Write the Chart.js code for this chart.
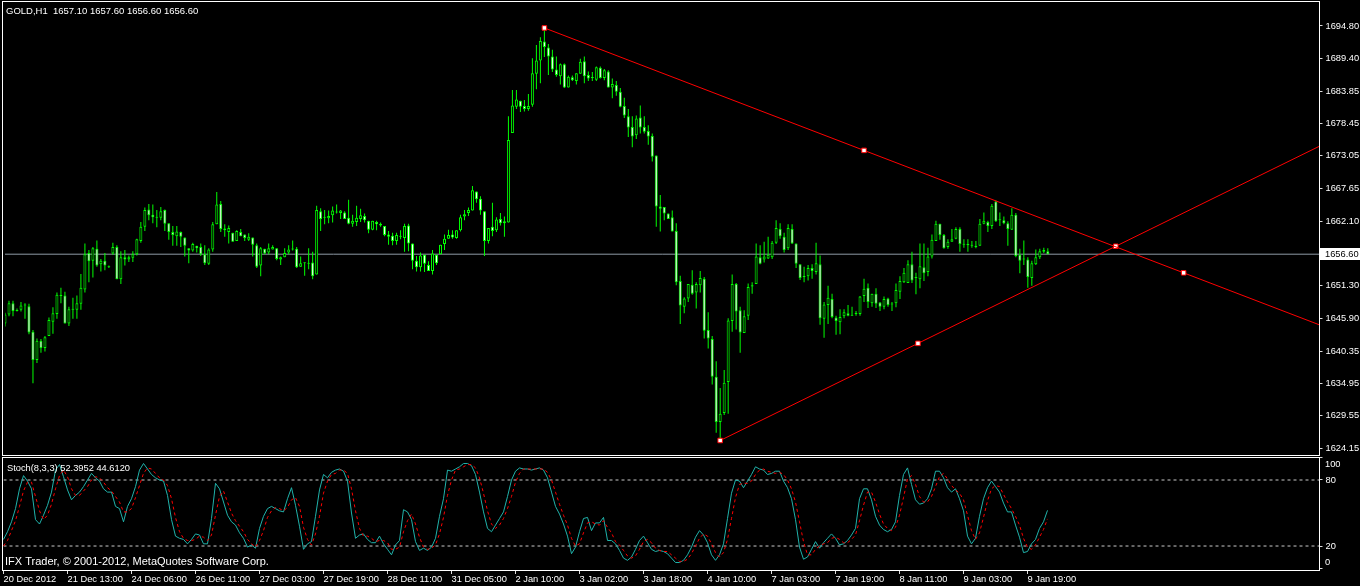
<!DOCTYPE html>
<html>
<head>
<meta charset="utf-8">
<script src="https://cdn.jsdelivr.net/npm/chart.js@4.4.0/dist/chart.umd.min.js"></script>
<style>
  html, body { margin: 0; padding: 0; background: #000; overflow: hidden; }
  #wrap { position: relative; width: 1360px; height: 586px; background: #000; }
  #main { position: absolute; left: 0; top: 0; }
  #stoch { position: absolute; left: 0; top: 456px; }
</style>
</head>
<body>
<div id="wrap">
  <canvas id="main" width="1360" height="456"></canvas>
  <canvas id="stoch" width="1360" height="130"></canvas>
</div>
<script>
// GOLD H1 candles, 20 Dec 2012 21:00 .. 9 Jan 2013
const symbol = "GOLD,H1";

const opens = [
  1645.0,1646.5,1648.4,1647.1,1647.3,1648.0,1647.9,1643.6,1638.9,1642.1,
  1640.9,1642.9,1645.3,1646.6,1649.7,1649.7,1645.0,1647.4,1647.3,1648.3,
  1650.7,1656.8,1655.5,1657.5,1654.9,1655.5,1654.6,1656.7,1657.8,1652.4,
  1656.1,1655.7,1656.0,1656.6,1658.8,1661.2,1664.1,1663.2,1662.8,1662.7,
  1664.0,1661.8,1660.3,1659.6,1660.3,1659.4,1657.6,1657.2,1658.0,1657.8,
  1656.6,1655.0,1657.4,1661.6,1665.0,1660.9,1660.3,1660.2,1658.8,1660.3,
  1659.9,1659.0,1659.4,1658.1,1654.7,1657.5,1656.9,1657.4,1657.6,1655.7,
  1656.1,1656.9,1657.4,1657.5,1654.5,1655.2,1655.0,1655.2,1653.2,1663.8,
  1662.7,1662.6,1663.1,1663.6,1663.5,1663.6,1662.7,1661.7,1662.0,1662.5,
  1663.0,1662.2,1660.7,1662.0,1661.7,1661.3,1659.9,1659.7,1658.8,1659.5,
  1659.3,1661.4,1658.4,1655.5,1654.4,1656.5,1654.8,1653.8,1656.5,1656.6,
  1658.3,1659.2,1659.9,1659.3,1660.6,1662.9,1663.5,1663.9,1667.1,1665.9,
  1663.8,1658.8,1661.2,1660.6,1662.5,1661.8,1661.9,1676.9,1681.3,1682.3,
  1681.4,1680.9,1681.6,1686.8,1689.0,1692.2,1691.2,1689.7,1687.5,1686.4,
  1688.4,1684.5,1686.2,1685.6,1686.8,1688.9,1686.6,1686.1,1685.8,1687.8,
  1686.1,1687.2,1684.5,1684.9,1683.8,1681.4,1679.7,1677.9,1676.5,1679.5,
  1677.9,1677.2,1676.4,1673.1,1664.6,1664.5,1663.4,1662.8,1660.5,1652.1,
  1647.8,1649.2,1651.5,1650.2,1651.4,1652.5,1643.9,1642.4,1636.1,1628.5,
  1630.0,1635.2,1645.4,1651.6,1647.2,1643.4,1646.3,1651.2,1651.6,1656.1,
  1655.7,1655.9,1656.1,1658.5,1660.8,1659.5,1657.6,1660.8,1658.4,1654.9,
  1652.9,1652.9,1654.3,1653.6,1654.9,1645.8,1648.1,1649.1,1646.0,1645.2,
  1646.2,1646.7,1646.3,1646.6,1646.6,1649.6,1651.0,1648.4,1650.0,1648.5,
  1647.8,1649.2,1648.2,1648.4,1650.3,1651.9,1651.8,1654.9,1652.6,1652.4,
  1654.4,1653.6,1656.2,1658.8,1661.7,1659.8,1657.8,1658.7,1659.2,1660.8,
  1658.3,1658.3,1658.1,1658.0,1658.0,1661.7,1662.0,1661.3,1665.4,1662.3,
  1662.3,1661.8,1660.7,1663.2,1656.5,1655.7,1655.7,1652.6,1654.9,1656.1,
  1657.0,1657.1
];
const highs = [
  1646.8,1648.8,1648.8,1647.5,1648.6,1648.4,1648.3,1643.9,1642.5,1642.4,
  1642.9,1646.0,1647.7,1650.2,1651.0,1650.3,1647.8,1649.3,1649.7,1653.3,
  1658.4,1657.3,1657.8,1658.9,1655.8,1656.8,1654.7,1658.5,1658.1,1657.1,
  1657.3,1656.4,1657.1,1659.2,1662.0,1664.4,1665.0,1664.9,1664.0,1664.5,
  1664.1,1661.8,1661.3,1661.3,1660.4,1659.4,1657.6,1658.5,1658.0,1658.4,
  1658.1,1657.6,1662.0,1667.0,1665.5,1661.6,1661.4,1660.2,1660.6,1660.8,
  1659.9,1660.1,1659.4,1658.4,1657.8,1657.5,1658.4,1658.1,1657.6,1656.2,
  1657.6,1658.1,1658.9,1657.8,1656.2,1655.2,1657.6,1657.0,1664.7,1664.3,
  1664.0,1663.9,1664.6,1664.9,1664.0,1663.8,1665.7,1663.2,1664.7,1664.2,
  1663.4,1662.2,1662.2,1662.2,1661.9,1661.3,1660.5,1660.2,1660.2,1660.6,
  1661.7,1661.7,1658.4,1656.3,1656.9,1656.5,1655.4,1657.3,1656.5,1658.2,
  1659.9,1660.7,1660.6,1660.6,1663.2,1664.0,1664.4,1668.0,1667.1,1666.3,
  1663.8,1661.0,1665.2,1662.8,1663.5,1662.9,1679.7,1684.1,1684.1,1682.3,
  1682.4,1683.4,1689.4,1691.6,1692.9,1694.5,1691.8,1690.8,1689.7,1688.5,
  1688.5,1686.5,1686.5,1686.9,1689.3,1689.7,1687.2,1687.1,1688.0,1688.0,
  1687.6,1687.4,1686.0,1685.6,1684.4,1682.8,1680.9,1679.7,1679.8,1681.5,
  1679.7,1678.2,1676.8,1673.1,1666.5,1664.5,1663.4,1663.9,1661.8,1653.0,
  1649.4,1651.6,1653.9,1651.9,1653.8,1652.8,1646.9,1642.9,1638.7,1634.2,
  1637.2,1645.9,1653.2,1651.8,1647.8,1647.2,1651.7,1651.9,1658.4,1658.1,
  1658.7,1659.5,1658.8,1662.3,1661.8,1660.2,1661.6,1661.6,1658.4,1654.9,
  1654.5,1654.8,1654.9,1658.5,1656.4,1648.6,1651.3,1650.0,1646.3,1647.4,
  1647.4,1648.1,1647.8,1647.1,1649.6,1652.5,1651.7,1650.0,1650.9,1648.6,
  1649.5,1649.3,1648.6,1651.7,1652.9,1654.3,1655.6,1657.0,1653.5,1658.4,
  1658.4,1657.7,1659.9,1662.2,1661.7,1660.0,1659.1,1660.8,1661.1,1661.1,
  1659.1,1659.1,1658.8,1658.8,1662.5,1663.6,1662.2,1665.0,1665.6,1663.6,
  1662.9,1662.1,1664.3,1663.5,1657.5,1658.9,1656.1,1655.5,1657.4,1657.5,
  1657.7,1657.6
];
const lows = [
  1644.5,1646.2,1646.2,1647.0,1647.0,1645.8,1643.2,1635.0,1638.4,1640.1,
  1640.3,1642.9,1643.3,1645.8,1648.4,1645.0,1644.6,1645.8,1645.8,1647.3,
  1650.2,1651.9,1652.7,1654.5,1653.7,1653.9,1654.3,1656.5,1652.4,1651.6,
  1654.7,1655.3,1655.3,1656.4,1658.5,1660.5,1662.3,1661.8,1661.1,1662.3,
  1660.5,1659.0,1658.0,1658.0,1657.8,1656.2,1655.1,1657.0,1656.9,1656.3,
  1654.8,1654.8,1657.0,1661.6,1660.3,1659.5,1658.4,1658.7,1658.8,1659.6,
  1658.8,1658.8,1656.2,1654.3,1652.9,1656.6,1656.6,1657.4,1655.6,1654.8,
  1656.1,1656.6,1657.2,1654.3,1654.5,1653.0,1654.1,1652.4,1653.2,1660.5,
  1661.6,1661.8,1661.9,1663.4,1662.5,1662.5,1661.6,1661.2,1661.3,1662.0,
  1661.9,1660.1,1660.6,1660.6,1661.2,1659.6,1658.2,1658.1,1658.2,1659.1,
  1657.0,1657.1,1654.1,1653.7,1653.7,1653.6,1653.8,1653.2,1654.8,1656.6,
  1657.3,1659.2,1659.2,1659.2,1660.4,1662.3,1663.0,1663.9,1665.2,1663.2,
  1656.3,1658.4,1659.6,1660.3,1661.4,1659.5,1661.9,1676.9,1680.9,1680.4,
  1680.5,1680.6,1681.3,1684.2,1685.2,1689.6,1686.6,1687.1,1686.3,1685.0,
  1684.4,1684.5,1685.6,1685.0,1686.8,1685.2,1685.6,1685.6,1685.6,1686.0,
  1685.7,1684.5,1682.7,1683.1,1681.2,1679.4,1676.2,1674.5,1675.9,1676.8,
  1676.8,1674.9,1672.1,1661.2,1660.4,1662.3,1662.5,1660.4,1651.4,1644.9,
  1646.7,1648.6,1649.8,1647.5,1650.2,1642.5,1640.8,1634.8,1626.7,1625.4,
  1629.7,1629.9,1643.6,1644.0,1640.1,1643.4,1645.6,1650.0,1651.6,1654.9,
  1655.2,1655.8,1655.8,1658.3,1659.2,1656.9,1657.3,1658.3,1654.3,1652.3,
  1651.9,1652.2,1652.5,1653.2,1644.8,1642.6,1644.9,1645.9,1643.1,1643.2,
  1645.9,1646.2,1646.3,1646.3,1646.3,1648.6,1647.6,1647.8,1647.6,1647.1,
  1647.4,1647.8,1647.1,1647.7,1649.1,1651.8,1651.8,1651.8,1649.9,1650.9,
  1652.1,1652.9,1655.9,1658.8,1659.0,1657.5,1657.5,1658.7,1659.1,1657.0,
  1657.7,1657.0,1657.7,1657.6,1658.0,1661.6,1660.3,1660.8,1662.0,1661.3,
  1661.6,1658.0,1660.7,1656.1,1653.4,1654.8,1651.0,1651.3,1654.8,1655.8,
  1656.8,1656.6
];
const closes = [
  1646.5,1648.4,1647.1,1647.2,1648.0,1648.2,1643.5,1638.9,1642.1,1640.9,
  1642.7,1645.6,1646.7,1649.8,1649.6,1645.0,1647.4,1647.3,1648.4,1651.0,
  1656.6,1655.4,1657.6,1654.7,1655.5,1654.7,1654.4,1657.8,1652.4,1656.1,
  1655.7,1656.1,1656.6,1659.1,1661.2,1664.0,1663.1,1662.8,1662.7,1663.8,
  1661.7,1660.3,1659.8,1660.4,1659.5,1658.0,1657.2,1658.3,1657.6,1656.6,
  1655.1,1657.4,1661.6,1664.9,1660.8,1660.6,1661.0,1658.7,1660.5,1659.6,
  1659.3,1659.5,1658.2,1654.5,1657.6,1656.7,1657.6,1657.8,1655.8,1656.1,
  1656.8,1657.4,1657.5,1654.4,1655.1,1655.1,1655.0,1652.9,1664.0,1662.5,
  1662.7,1663.0,1663.9,1663.6,1663.9,1662.5,1661.7,1662.2,1662.7,1663.1,
  1662.3,1660.7,1662.2,1661.6,1661.4,1659.8,1659.5,1658.8,1659.8,1659.5,
  1661.3,1658.4,1655.5,1654.4,1656.4,1655.0,1653.8,1656.7,1655.1,1658.2,
  1659.2,1659.8,1659.4,1660.6,1662.8,1663.3,1664.0,1667.3,1665.8,1663.9,
  1658.8,1661.0,1660.5,1662.4,1661.8,1662.1,1675.7,1681.5,1682.5,1681.3,
  1680.9,1681.4,1686.9,1689.0,1692.3,1691.3,1689.7,1687.5,1686.6,1688.4,
  1684.5,1686.3,1685.7,1686.9,1688.8,1686.4,1686.0,1686.1,1687.9,1686.1,
  1687.4,1684.5,1685.1,1683.8,1681.3,1679.8,1677.8,1676.3,1679.3,1677.8,
  1677.1,1676.3,1672.9,1664.6,1664.2,1663.4,1662.5,1660.4,1651.9,1648.0,
  1649.2,1651.6,1650.0,1651.6,1652.6,1643.8,1642.5,1636.1,1628.5,1629.9,
  1635.1,1645.5,1651.6,1647.0,1643.5,1646.2,1651.1,1651.4,1656.2,1655.0,
  1656.2,1656.5,1658.5,1661.0,1659.6,1657.3,1661.0,1658.4,1655.0,1652.6,
  1652.8,1654.3,1653.8,1655.1,1645.9,1648.2,1649.3,1646.1,1645.4,1646.1,
  1646.9,1646.3,1646.3,1646.6,1649.5,1650.8,1648.6,1650.0,1648.3,1647.8,
  1649.1,1648.1,1648.2,1650.6,1652.1,1653.5,1654.9,1652.2,1652.6,1654.6,
  1653.4,1656.2,1659.0,1661.7,1659.8,1657.6,1658.7,1659.1,1660.8,1658.3,
  1658.2,1658.1,1658.0,1657.8,1661.7,1662.2,1661.3,1664.7,1662.1,1662.3,
  1661.8,1660.8,1663.2,1656.3,1655.5,1655.7,1652.8,1655.1,1656.1,1657.1,
  1657.3,1656.6
];

// Stochastic(8,3,3): main and signal
const stochMain = [
  26,33,42,54,72,84,79,72,44,40, 48,57,69,89,94,83,71,62,66,69,
  74,80,86,82,79,72,69,69,56,54, 42,56,63,74,89,95,90,85,82,80,
  79,66,44,29,27,26,22,26,31,30, 22,22,45,77,72,60,48,42,39,32,
  27,19,21,18,36,47,54,56,54,52, 51,63,73,57,38,17,22,24,47,71,
  85,82,87,89,90,88,79,50,27,30, 31,26,23,23,29,22,17,12,21,25,
  53,51,44,24,16,18,16,19,27,47, 63,89,88,90,92,95,95,93,85,69,
  51,36,33,39,45,51,65,80,88,91, 90,90,89,90,91,89,82,69,56,49,
  40,29,13,19,33,45,46,34,41,41, 46,25,25,22,16,9,7,10,17,25,
  29,23,17,15,16,15,13,9,5,5, 7,12,19,28,34,30,23,12,7,12,
  22,45,68,80,79,73,79,85,92,90, 89,85,86,88,88,79,73,63,44,19,
  8,10,17,24,18,23,27,31,27,21, 22,25,30,36,63,72,72,62,47,39,
  35,33,35,42,66,85,91,76,62,58, 59,63,72,88,88,82,73,69,72,63,
  52,29,22,27,47,63,73,79,74,69, 59,51,51,39,28,14,15,22,26,36,
  42,52.3952
];
const stochSignal = [
  20,25,34,43,56,70,78,78,65,52, 44,48,58,72,84,89,83,72,66,66,
  70,74,80,83,82,78,73,70,65,60, 51,51,54,64,75,86,91,90,86,82,
  80,75,63,46,33,27,25,25,26,29, 28,25,30,48,65,70,60,50,43,38,
  33,26,22,19,25,34,46,52,55,54, 52,55,62,64,56,37,26,21,31,47,
  68,79,85,86,89,89,86,72,52,36, 29,29,27,24,25,25,23,17,17,19,
  33,43,49,40,28,19,17,18,21,31, 46,66,80,89,90,92,94,94,91,82,
  68,52,40,36,39,45,54,65,78,86, 90,90,90,90,90,90,87,80,69,58,
  48,39,27,20,22,32,41,42,40,39, 43,37,32,24,21,16,11,9,11,17,
  24,26,23,18,16,15,15,12,9,6, 6,8,13,20,27,31,29,22,14,10,
  14,26,45,64,76,77,77,79,85,89, 90,88,87,86,87,85,80,72,60,42,
  24,12,12,17,20,22,23,27,28,26, 23,23,26,30,43,57,69,69,60,49,
  40,36,34,37,48,64,81,84,76,65, 60,60,65,74,83,86,81,75,71,68,
  62,48,34,26,32,46,61,72,75,74, 67,60,54,47,39,27,19,17,21,28,
  35,44.612
];
const stochLevels = [80, 20];
const stochTicks = [100, 80, 20, 0];

// time axis: one label every 16 bars
const timeLabels = ["20 Dec 2012","21 Dec 13:00","24 Dec 06:00","26 Dec 11:00","27 Dec 03:00",
  "27 Dec 19:00","28 Dec 11:00","31 Dec 05:00","2 Jan 10:00","3 Jan 02:00","3 Jan 18:00",
  "4 Jan 10:00","7 Jan 03:00","7 Jan 19:00","8 Jan 11:00","9 Jan 03:00","9 Jan 19:00"];
const labelStep = 16;

const priceTicks = [1694.80,1689.40,1683.85,1678.45,1673.05,1667.65,1662.10,
  1651.30,1645.90,1640.35,1634.95,1629.55,1624.15];

// trend lines: [bar, price] anchor points
const upperTrend = [{x: 135, y: 1694.47}, {x: 295, y: 1653.48}];
const lowerTrend = [{x: 179, y: 1625.42}, {x: 278, y: 1657.93}];

// chart has room for 330 bars (right shift)
const slotCount = 330;
const lastSlot = slotCount - 1;
const slots = Array.from({length: slotCount}, (_, i) => i);

const FONT = "'Liberation Sans', Arial, sans-serif";
Chart.defaults.font.family = FONT;
Chart.defaults.font.size = 9.3;
Chart.defaults.color = "#fff";

// ray with start / middle / end markers like MT4
function rayPoints(a) {
  const slope = (a[1].y - a[0].y) / (a[1].x - a[0].x);
  return [a[0], {x: (a[0].x + a[1].x) / 2, y: (a[0].y + a[1].y) / 2}, a[1],
    {x: lastSlot, y: a[1].y + slope * (lastSlot - a[1].x)}];
}
function trendDataset(a) {
  return {
    type: "line", xAxisID: "xl", data: rayPoints(a),
    borderColor: "#ff0000", borderWidth: 1, order: 0,
    pointStyle: "rect", pointRadius: [3.2, 3.2, 3.2, 0],
    pointBackgroundColor: "#ffffff", pointBorderColor: "#ff0000", pointBorderWidth: 1
  };
}

// hidden linear x axis sharing the bar slots, for lines
const slotAxis = {type: "linear", display: false, offset: false, min: 0, max: lastSlot, grid: {offset: false}};

const lastBar = closes.length - 1;

const mainDecor = {
  id: "mainDecor",
  afterDraw(chart) {
    const ctx = chart.ctx;
    const py = Math.round(chart.scales.y.getPixelForValue(closes[lastBar]));
    ctx.save();
    ctx.strokeStyle = "#fff";
    ctx.lineWidth = 1;
    ctx.strokeRect(2.5, 1.5, 1317, 454);
    ctx.font = "9.5px " + FONT;
    ctx.textBaseline = "middle";
    ctx.fillStyle = "#fff";
    const ohlc = [opens[lastBar], highs[lastBar], lows[lastBar], closes[lastBar]].map(v => v.toFixed(2)).join(" ");
    ctx.fillText(symbol + "  " + ohlc, 6, 11);
    // bid price box on the axis
    ctx.fillRect(1320, py - 6, 40, 12);
    ctx.fillStyle = "#000";
    ctx.font = "9.3px " + FONT;
    ctx.fillText(closes[lastBar].toFixed(2), 1325, py + 0.5);
    ctx.restore();
  }
};

new Chart(document.getElementById("main"), {
  type: "bar",
  data: {
    labels: slots,
    datasets: [
      {
        type: "line", xAxisID: "xl", order: 5,
        data: [{x: 0, y: closes[lastBar]}, {x: lastSlot, y: closes[lastBar]}],
        borderColor: "#8e9aa6", borderWidth: 1, pointRadius: 0
      },
      {
        data: highs.map((h, i) => [lows[i], h]),
        backgroundColor: "#00ff00", borderWidth: 0, barThickness: 1,
        inflateAmount: 0, grouped: false, order: 4
      },
      {
        data: opens.map((o, i) => [o, closes[i]]),
        backgroundColor: closes.map((c, i) => c < opens[i] ? "#ffffff" : "#000000"),
        borderColor: "#00ff00", borderWidth: 1, borderSkipped: false,
        barThickness: 3, minBarLength: 1, inflateAmount: 0, grouped: false, order: 3
      },
      trendDataset(upperTrend),
      trendDataset(lowerTrend)
    ]
  },
  options: {
    responsive: false,
    animation: false,
    events: [],
    layout: {padding: {left: 3.5, top: 2, right: 0, bottom: 1}},
    plugins: {legend: {display: false}, tooltip: {enabled: false}},
    scales: {
      x: {display: false, offset: false},
      xl: slotAxis,
      y: {
        position: "right",
        min: 1623.66, max: 1698.31,
        afterBuildTicks: s => { s.ticks = priceTicks.map(v => ({value: v})); },
        afterFit: s => { s.width = 40.5; s.paddingTop = 0; s.paddingBottom = 0; },
        ticks: {color: "#fff", padding: 3, autoSkip: false, callback: v => Number(v).toFixed(2)},
        grid: {drawOnChartArea: false, tickLength: 3, color: "#dddddd"},
        border: {display: false}
      }
    }
  },
  plugins: [mainDecor]
});

const stochDecor = {
  id: "stochDecor",
  afterDraw(chart) {
    const ctx = chart.ctx;
    const ys = chart.scales.y;
    ctx.save();
    ctx.strokeStyle = "#fff";
    ctx.lineWidth = 1;
    ctx.strokeRect(2.5, 1.5, 1317, 113);
    ctx.fillStyle = "#fff";
    ctx.textBaseline = "middle";
    ctx.font = "9.3px " + FONT;
    ctx.fillText("Stoch(8,3,3) " + stochMain[lastBar].toFixed(4) + " " + stochSignal[lastBar].toFixed(4), 7, 12);
    ctx.fillText(String(stochTicks[0]), 1325, ys.getPixelForValue(stochTicks[0]) + 6);
    ctx.fillText(String(stochTicks[3]), 1325, ys.getPixelForValue(stochTicks[3]) - 6);
    ctx.font = "11px " + FONT;
    ctx.fillText("IFX Trader, \u00a9 2001-2012, MetaQuotes Software Corp.", 5, 106);
    ctx.restore();
  }
};

new Chart(document.getElementById("stoch"), {
  type: "line",
  data: {
    labels: slots,
    datasets: [
      ...stochLevels.map(v => ({
        xAxisID: "xl", data: [{x: 0, y: v}, {x: lastSlot, y: v}],
        borderColor: "#c8c8c8", borderWidth: 1, borderDash: [3, 3], pointRadius: 0, order: 3
      })),
      {data: stochMain, borderColor: "#20b2aa", borderWidth: 1, pointRadius: 0, order: 2},
      {data: stochSignal, borderColor: "#ff0000", borderWidth: 1, borderDash: [3, 3], pointRadius: 0, order: 1}
    ]
  },
  options: {
    responsive: false,
    animation: false,
    events: [],
    layout: {padding: {left: 3.5, top: 1, right: 0, bottom: 0}},
    plugins: {legend: {display: false}, tooltip: {enabled: false}},
    scales: {
      x: {
        offset: false,
        afterBuildTicks: s => { s.ticks = timeLabels.map((_, k) => ({value: k * labelStep})); },
        afterFit: s => { s.height = 16; s.paddingLeft = 0; s.paddingRight = 0; },
        ticks: {
          autoSkip: false, maxRotation: 0, align: "start", padding: 0, color: "#fff",
          callback: v => timeLabels[v / labelStep]
        },
        grid: {drawOnChartArea: false, offset: false, tickLength: 4, color: "#dddddd"},
        border: {display: false}
      },
      xl: slotAxis,
      y: {
        position: "right",
        min: -1.8, max: 100.9,
        afterBuildTicks: s => { s.ticks = stochTicks.map(v => ({value: v})); },
        afterFit: s => { s.width = 40.5; s.paddingTop = 0; s.paddingBottom = 0; },
        ticks: {color: "#fff", padding: 3, autoSkip: false,
          callback: v => (v === stochTicks[1] || v === stochTicks[2]) ? String(v) : ""},
        grid: {drawOnChartArea: false, tickLength: 3, color: "#dddddd"},
        border: {display: false}
      }
    }
  },
  plugins: [stochDecor]
});
</script>
</body>
</html>
